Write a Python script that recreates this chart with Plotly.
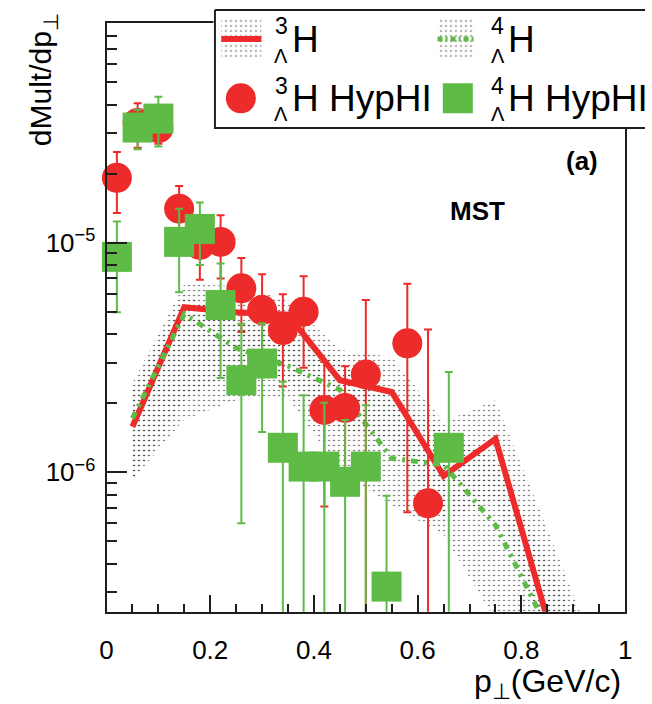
import plotly.graph_objects as go

# ---------------------------------------------------------------
# HypHI measured spectra, bin centres in GeV/c
# ---------------------------------------------------------------
pt_3h = [0.02, 0.06, 0.10, 0.14, 0.18, 0.22, 0.26, 0.30, 0.34, 0.38,
         0.42, 0.46, 0.50, 0.58, 0.62]
y_3h = [1.92e-5, 3.33e-5, 3.16e-5, 1.41e-5, 9.8e-6, 1.01e-5, 6.34e-6, 5.1e-6,
        4.17e-6, 5.01e-6, 1.87e-6, 1.91e-6, 2.67e-6, 3.65e-6, 7.33e-7]
err_3h = [5.7e-6, 7.3e-6, 4.6e-6, 3.6e-6, 2.9e-6, 3.1e-6, 2.25e-6, 2.2e-6,
          1.8e-6, 2.15e-6, 1.16e-6, 0.99e-6, 2.97e-6, 2.98e-6, 3.46e-6]

pt_4h = [0.02, 0.06, 0.10, 0.14, 0.18, 0.22, 0.26, 0.30, 0.34, 0.38,
         0.42, 0.46, 0.50, 0.54, 0.66]
y_4h = [8.69e-6, 3.18e-5, 3.48e-5, 1.01e-5, 1.15e-5, 5.36e-6, 2.52e-6, 2.98e-6,
        1.28e-6, 1.06e-6, 1.06e-6, 9.1e-7, 1.06e-6, 3.18e-7, 1.28e-6]
err_4h = [3.7e-6, 6.2e-6, 8.5e-6, 4.0e-6, 3.5e-6, 2.78e-6, 1.92e-6, 1.48e-6,
          1.2e-6, 1.11e-6, 0.95e-6, 0.78e-6, 0.9e-6, 4.73e-7, 1.46e-6]

# ---------------------------------------------------------------
# MST model predictions and their uncertainty bands
# ---------------------------------------------------------------
pt_model = [0.05, 0.15, 0.25, 0.35, 0.45, 0.55, 0.65, 0.75, 0.85]
mst_3h = [1.58e-6, 5.24e-6, 4.99e-6, 4.86e-6, 2.52e-6, 2.24e-6, 9.64e-7, 1.40e-6, 2.3e-7]
mst_4h = [1.72e-6, 4.9e-6, 3.48e-6, 2.91e-6, 2.29e-6, 1.15e-6, 1.08e-6, 5.89e-7, 2.1e-7]

pt_band = [0.05, 0.15, 0.25, 0.35, 0.45, 0.55, 0.65, 0.75, 0.85, 0.95]
band_3h_hi = [2.45e-6, 6.60e-6, 6.48e-6, 5.63e-6, 3.41e-6, 3.18e-6, 1.66e-6, 2.06e-6, 5.66e-7, 1.51e-7]
band_3h_lo = [9.25e-7, 2.06e-6, 2.79e-6, 2.52e-6, 1.53e-6, 1.38e-6, 6.2e-7, 7.6e-7, 1.86e-7, 5.6e-8]
band_4h_hi = [2.29e-6, 5.92e-6, 4.61e-6, 3.96e-6, 3.08e-6, 2.06e-6, 1.53e-6, 1.13e-6, 4.15e-7, 1.24e-7]
band_4h_lo = [9.25e-7, 1.7e-6, 2.06e-6, 2.11e-6, 1.02e-6, 7.2e-7, 5.33e-7, 2.27e-7, 8.3e-8, 3.7e-8]

x_ticks = [0, 0.2, 0.4, 0.6, 0.8, 1.0]
x_ticktext = ["0", "0.2", "0.4", "0.6", "0.8", "1"]
y_ticks = [1e-6, 1e-5]
y_ticktext = ["10<sup>\u22126</sup>", "10<sup>\u22125</sup>"]

RED = "#EE2B2B"
GREEN = "#5DBB46"
INK = "#1e1e1e"
FONT = "Liberation Sans, Arial, Helvetica, sans-serif"

W, H = 652, 704
# frame of the main panel, in pixels
PL, PR, PT, PB = 101.7, 631.7, 23.0, 611.7

DOTS = dict(shape=".", fgcolor="#2a2a2a", bgcolor="rgba(0,0,0,0)",
            size=5, solidity=0.07, fillmode="replace")

fig = go.Figure()


def band(x, hi, lo, xa="x", ya="y"):
    return go.Scatter(x=list(x) + list(x)[::-1], y=list(hi) + list(lo)[::-1],
                      xaxis=xa, yaxis=ya, mode="lines", line=dict(width=0),
                      fill="toself", fillcolor="rgba(0,0,0,0)", fillpattern=DOTS,
                      hoverinfo="skip", showlegend=False)


fig.add_trace(band(pt_band, band_3h_hi, band_3h_lo))
fig.add_trace(band(pt_band, band_4h_hi, band_4h_lo))

fig.add_trace(go.Scatter(x=pt_model, y=mst_3h, mode="lines",
                         line=dict(color=RED, width=6), showlegend=False))
fig.add_trace(go.Scatter(x=pt_model, y=mst_4h, mode="lines",
                         line=dict(color=GREEN, width=5, dash="7px,6px,3px,6px"),
                         showlegend=False))


def data_points(x, y, err, color, symbol):
    bars = go.Scatter(x=x, y=y, mode="markers",
                      marker=dict(size=1, opacity=0, color=color),
                      error_y=dict(type="data", array=err, color=color,
                                   thickness=2, width=4),
                      showlegend=False, hoverinfo="skip")
    marks = go.Scatter(x=x, y=y, mode="markers", cliponaxis=False,
                       marker=dict(symbol=symbol, size=30, color=color,
                                   line=dict(width=0)),
                       showlegend=False)
    return bars, marks


for tr in data_points(pt_3h, y_3h, err_3h, RED, "circle"):
    fig.add_trace(tr)
for tr in data_points(pt_4h, y_4h, err_4h, GREEN, "square"):
    fig.add_trace(tr)

# ---------------------------------------------------------------
# Legend box, drawn in its own pixel-unit panel
# ---------------------------------------------------------------
LG_X0, LG_X1, LG_Y0, LG_Y1 = 211.0, 652.0, 8.5, 129.0
box_x = [212.5, 662, 662, 212.5, 212.5]
box_y = [10.0, 10.0, 128.0, 128.0, 10.0]
fig.add_trace(go.Scatter(x=box_x, y=box_y, xaxis="x2", yaxis="y2", mode="lines",
                         fill="toself", fillcolor="white",
                         line=dict(color=INK, width=2), hoverinfo="skip",
                         showlegend=False))

for sx0, sx1, color, dash, lw in [(219, 260, RED, "solid", 6),
                                  (440, 478, GREEN, "5px,3px,2px,3px", 5)]:
    fig.add_trace(band([sx0, sx1], [18, 18], [57, 57], "x2", "y2"))
    fig.add_trace(go.Scatter(x=[sx0, sx1], y=[39, 39], xaxis="x2", yaxis="y2",
                             mode="lines", line=dict(color=color, width=lw, dash=dash),
                             hoverinfo="skip", showlegend=False))

fig.add_trace(go.Scatter(x=[239], y=[98.3], xaxis="x2", yaxis="y2", mode="markers",
                         marker=dict(symbol="circle", size=30, color=RED),
                         hoverinfo="skip", showlegend=False))
fig.add_trace(go.Scatter(x=[460.7], y=[98.3], xaxis="x2", yaxis="y2", mode="markers",
                         marker=dict(symbol="square", size=30, color=GREEN),
                         hoverinfo="skip", showlegend=False))

annotations = []


def lg_text(x, y, text, size, xanchor="left"):
    annotations.append(dict(x=x, y=y, xref="x2", yref="y2", text=text,
                            showarrow=False, xanchor=xanchor, yanchor="middle",
                            font=dict(family=FONT, size=size, color="black")))


for cap_c, sup_c, sub_c, label in [(39.2, 25.5, 56.0, "H"),
                                   (98.4, 85.5, 114.0, "H HypHI")]:
    for pre_x, h_x, mass in [(280.5, 289.5, "3"), (501.5, 509.5, "4")]:
        lg_text(pre_x, sup_c, mass, 23, "center")
        lg_text(pre_x, sub_c, "\u039b", 20, "center")
        lg_text(h_x, cap_c, label, 37)

# ---------------------------------------------------------------
# Panel labels and axis titles
# ---------------------------------------------------------------
def paper_text(px, py, text, size, xanchor="center", angle=0):
    annotations.append(dict(x=px / W, y=1 - py / H, xref="paper", yref="paper",
                            text=text, showarrow=False, xanchor=xanchor,
                            yanchor="middle", textangle=angle,
                            font=dict(family=FONT, size=size, color="black")))


paper_text(588, 161, "<b>(a)</b>", 26)
paper_text(481, 211, "<b>MST</b>", 26)
paper_text(36, 80, "dMult/dp<sub>\u22a5</sub>", 30, angle=-90)
paper_text(630, 683, "p<sub>\u22a5</sub>(GeV/c)", 32, xanchor="right")

x_minor = [0.05, 0.1, 0.15, 0.25, 0.3, 0.35, 0.45, 0.5, 0.55,
           0.65, 0.7, 0.75, 0.85, 0.9, 0.95]
y_minor = [m * d for d in (1e-7, 1e-6, 1e-5) for m in range(2, 10)]

fig.update_layout(
    width=W, height=H,
    margin=dict(l=0, r=0, t=0, b=0),
    paper_bgcolor="white", plot_bgcolor="white",
    showlegend=False,
    font=dict(family=FONT, color="black"),
    annotations=annotations,
    xaxis=dict(domain=[PL / W, PR / W], range=[0, 1],
               tickmode="array", tickvals=x_ticks, ticktext=x_ticktext,
               ticks="inside", ticklen=17, tickwidth=2, tickcolor=INK,
               minor=dict(tickmode="array", tickvals=x_minor, ticks="inside",
                          ticklen=8, tickwidth=2, tickcolor=INK),
               showline=True, linewidth=2, linecolor=INK, mirror=True,
               showgrid=False, zeroline=False, ticklabelstandoff=14,
               tickfont=dict(size=26, family=FONT, color="black"),
               anchor="y"),
    yaxis=dict(domain=[1 - PB / H, 1 - PT / H], type="log",
               range=[-6.607, -4.042],
               tickmode="array", tickvals=y_ticks, ticktext=y_ticktext,
               ticks="inside", ticklen=20, tickwidth=2, tickcolor=INK,
               minor=dict(tickmode="array", tickvals=y_minor, ticks="inside",
                          ticklen=10, tickwidth=2, tickcolor=INK),
               showline=True, linewidth=2, linecolor=INK, mirror=True,
               showgrid=False, zeroline=False, ticklabelstandoff=4,
               tickfont=dict(size=26, family=FONT, color="black"),
               anchor="x"),
    xaxis2=dict(domain=[LG_X0 / W, LG_X1 / W], range=[LG_X0, LG_X1],
                visible=False, fixedrange=True, anchor="y2"),
    yaxis2=dict(domain=[1 - LG_Y1 / H, 1 - LG_Y0 / H], range=[LG_Y1, LG_Y0],
                visible=False, fixedrange=True, anchor="x2"),
)

fig.write_html("out.html")
